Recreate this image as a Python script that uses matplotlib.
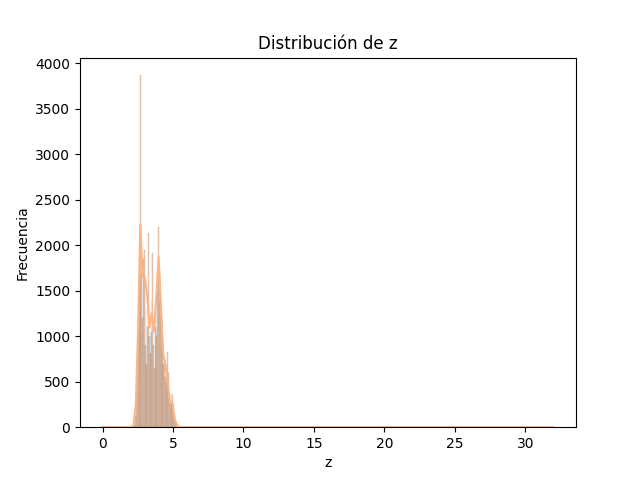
import numpy as np
import matplotlib
matplotlib.use("Agg")
import matplotlib.pyplot as plt
from matplotlib.colors import to_rgba

# ---- data ----
title = "Distribución de z"
xlabel = "z"
ylabel = "Frecuencia"

z_min, z_max = 0.0, 31.8
n_bins = 532

# counts for the bins with index 36..98 (all other bins ~0)
first_bin = 36
bin_counts = [5, 15, 40, 120, 350, 600, 1050, 1600,
              2050, 3870, 1700, 1200, 1850, 1950, 900, 1300, 700, 1100,
              2140, 1000, 800, 1400, 1050, 1920, 900, 650, 1100, 1250,
              1000, 1500, 2200, 1700, 1350, 1200, 1000, 850, 700, 750,
              550, 500, 700, 825, 600, 380, 300, 250, 380, 350,
              250, 150, 80, 50, 30, 20, 12, 8, 5, 4, 3, 2, 2, 1, 1]
outlier_bins = {0: 20, 531: 1}

# KDE curve (scaled to counts)
kde_z = [0.0, 2.03, 2.19, 2.36, 2.52, 2.68, 2.84, 3.00, 3.17, 3.33, 3.49,
         3.65, 3.82, 3.98, 4.14, 4.30, 4.46, 4.63, 4.79, 4.95, 5.11, 5.28,
         5.44, 5.60, 32.0]
kde_counts = [0, 0, 20, 250, 1050, 2230, 1650, 1650, 1450, 1100, 1250,
              1050, 1450, 1870, 1350, 820, 680, 480, 270, 260, 100, 15,
              3, 0, 0]

color = "#ffb482"

# ---- build histogram arrays ----
edges = np.linspace(z_min, z_max, n_bins + 1)
heights = np.zeros(n_bins)
heights[first_bin:first_bin + len(bin_counts)] = bin_counts
for k, v in outlier_bins.items():
    heights[k] = v
widths = np.diff(edges)

fig, ax = plt.subplots(figsize=(6.4, 4.8), dpi=100)
bars = ax.bar(edges[:-1], heights, widths, align="edge",
              facecolor=to_rgba(color, 0.5), edgecolor="black",
              linewidth=0.08)
ax.plot(kde_z, kde_counts, color=color, linewidth=1.5)

ax.set_title(title)
ax.set_xlabel(xlabel)
ax.set_ylabel(ylabel)

fig.savefig("out.png", dpi=100)
